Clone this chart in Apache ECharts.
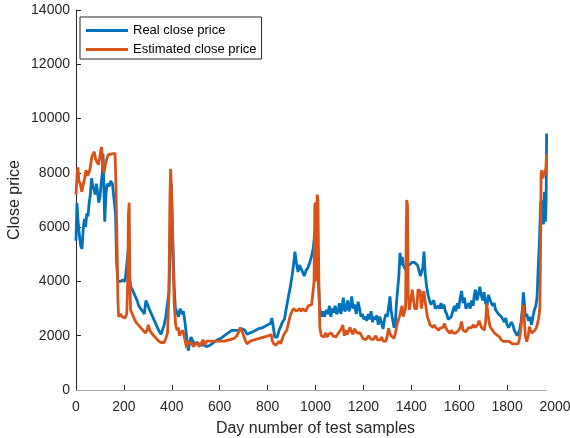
<!DOCTYPE html>
<html><head><meta charset="utf-8">
<script src="https://cdn.jsdelivr.net/npm/echarts@6/dist/echarts.min.js"></script>
<style>html,body{margin:0;padding:0;background:#fff}#c{width:570px;height:438px}</style>
</head><body><div id="c"></div>
<script>
const xTicks = [0,200,400,600,800,1000,1200,1400,1600,1800,2000];
const xTickMarks = [0,200,400,600,800,1000,1200,1400,1600,1800];
const yTicks = [0,2000,4000,6000,8000,10000,12000,14000];
const lastDay = 1965;

const realDays = [0,4,8,14,20,25,30,35,40,45,50,55,60,65,70,75,80,85,90,95,100,105,110,113,116,120,125,130,138,145,152,160,165,170,175,185,195,205,212,218,222,228,235,245,255,262,270,278,285,292,298,305,315,325,335,345,355,360,368,375,382,388,393,398,402,406,410,415,420,428,435,440,448,455,460,465,469,474,480,488,495,505,515,525,535,545,560,575,590,605,620,635,650,665,680,695,705,715,725,740,760,780,800,812,818,824,830,840,848,855,862,870,878,886,895,902,908,914,920,927,933,940,946,953,960,968,976,984,990,995,1000,1004,1008,1012,1018,1026,1032,1038,1045,1052,1058,1064,1070,1076,1082,1088,1094,1100,1106,1112,1116,1122,1128,1134,1140,1146,1151,1157,1163,1170,1178,1184,1190,1196,1202,1208,1214,1220,1226,1232,1238,1244,1250,1256,1262,1268,1275,1282,1288,1294,1300,1306,1311,1316,1322,1328,1333,1338,1343,1348,1353,1358,1362,1367,1372,1378,1384,1390,1396,1402,1408,1414,1420,1426,1432,1438,1443,1448,1453,1458,1464,1470,1476,1482,1488,1494,1500,1506,1512,1518,1524,1530,1536,1542,1548,1554,1561,1567,1573,1580,1586,1592,1598,1604,1610,1616,1622,1628,1634,1640,1646,1652,1658,1663,1668,1674,1680,1686,1692,1698,1704,1710,1716,1722,1728,1734,1740,1746,1752,1758,1764,1770,1776,1782,1788,1794,1800,1806,1812,1818,1824,1830,1836,1842,1847,1852,1858,1864,1868,1872,1876,1882,1889,1895,1902,1908,1914,1920,1925,1930,1935,1940,1944,1948,1952,1956,1960,1963,1965];
const realVals = [5500,6900,6300,5700,5300,5200,5900,6300,6000,6500,6400,6900,7200,7800,7500,7400,7200,7600,7300,6900,7100,7600,8000,8700,7600,6200,7200,7600,7500,7700,7600,7650,6500,4600,4000,4000,4050,4000,4050,5150,4300,3800,3700,3500,3300,3100,3000,2900,2800,3300,3250,3000,2800,2600,2400,2200,2050,2000,2400,2700,3200,3600,5000,7600,6000,5000,3800,3000,2900,2700,3000,2800,2900,2500,2100,1700,1450,1700,1950,1800,1700,1750,1700,1650,1650,1600,1650,1750,1850,1900,2000,2100,2200,2200,2200,2250,2200,2050,2100,2150,2250,2300,2400,2450,2650,2300,1950,1950,2200,2350,2500,2600,3000,3400,3800,4200,4600,5100,4700,4350,4600,4550,4350,4200,4400,4500,4700,4950,5200,5600,5900,4500,5500,4000,3000,2700,2900,2700,2950,2800,3100,2700,3000,2850,3100,2800,2900,3200,2800,3100,3400,2900,3000,3300,2900,3100,3450,3000,3150,2800,3250,3200,2700,2800,2600,2700,2550,2800,2600,2900,2500,2700,2600,2750,2400,2700,2500,2250,2600,2800,2700,3100,3450,2900,2600,2300,2400,3200,3700,4200,5050,4600,4900,4600,4500,4400,4700,4600,4650,4700,4650,4700,4650,4600,4400,4200,4150,4500,5100,4300,3800,3500,3300,3150,3100,3300,3000,2950,3100,3000,3200,3000,3150,2900,2800,2600,2550,2700,2900,3100,2900,3200,3000,3400,3650,3200,3400,3000,2950,3200,3000,3300,3100,3500,3700,3300,3500,3800,3500,3300,3600,3200,3100,3500,3450,3200,3100,3200,2950,3000,2800,2850,2700,2600,2500,2650,2400,2300,2350,2500,2400,2200,2100,2000,1950,2200,2500,3000,3600,3200,2700,2800,2550,2700,2400,2700,2950,3100,3400,4500,5500,6900,7000,6800,6100,7300,6200,7000,9450];

const estDays = [0,5,8,12,18,24,30,36,42,48,54,60,66,72,76,82,88,94,100,104,107,112,117,122,128,134,142,150,158,163,167,171,175,178,185,192,198,205,212,216,219,222,225,228,235,242,250,260,270,280,290,297,302,308,315,325,335,345,355,362,368,375,382,388,392,395,398,402,406,410,416,422,427,432,437,441,446,451,456,462,466,470,476,482,490,498,506,514,522,530,538,546,554,565,580,600,620,640,660,672,680,686,692,700,708,714,720,728,745,765,785,805,815,820,826,835,842,848,854,860,866,872,880,888,895,902,908,914,920,927,934,940,946,952,958,964,970,977,984,990,994,997,1000,1004,1007,1010,1014,1018,1024,1030,1036,1042,1048,1054,1060,1066,1072,1078,1084,1090,1096,1102,1108,1114,1120,1126,1132,1138,1144,1150,1156,1162,1168,1174,1180,1186,1192,1198,1204,1210,1216,1222,1228,1234,1240,1246,1252,1258,1264,1270,1276,1282,1288,1294,1300,1305,1310,1316,1322,1328,1334,1340,1346,1352,1358,1362,1366,1372,1376,1379,1381,1384,1387,1392,1398,1404,1409,1414,1418,1423,1428,1433,1437,1442,1447,1452,1457,1462,1467,1472,1478,1484,1490,1496,1502,1508,1514,1520,1526,1532,1538,1544,1550,1556,1561,1567,1574,1580,1586,1592,1598,1604,1610,1616,1622,1628,1634,1640,1646,1652,1659,1665,1671,1677,1683,1687,1693,1699,1705,1710,1715,1720,1725,1729,1735,1741,1747,1752,1757,1763,1769,1775,1780,1786,1792,1798,1804,1810,1816,1822,1828,1834,1840,1846,1852,1858,1863,1868,1872,1876,1882,1888,1893,1898,1904,1910,1916,1922,1927,1930,1934,1937,1940,1942,1946,1950,1954,1958,1962,1965];
const estVals = [7200,8000,8200,7700,7600,7300,7300,7800,8100,7900,8000,8200,8600,8700,8780,8500,8400,8300,8600,8850,8950,8300,7980,8300,8500,8660,8650,8700,8650,8720,7500,5500,3300,2700,2800,2700,2750,2650,2800,4000,6500,6900,4000,2950,2800,2650,2500,2400,2300,2200,2100,2200,2400,2200,2100,2000,1900,1800,1750,1700,1750,1900,2100,3500,7000,8150,7500,6500,4500,3200,2400,2200,2300,2000,2100,2050,2200,2150,1800,1550,1800,1700,1650,1750,1600,1650,1750,1600,1700,1850,1650,1800,1850,1800,1800,1800,1800,1850,1900,2000,2150,2300,2200,2000,1800,1700,1650,1800,1850,1900,1950,2000,2050,1800,1700,1650,1700,1800,1700,1850,2000,2100,2200,2500,2750,2900,3000,3070,2900,2950,3000,2900,3000,3050,2900,3000,3100,3100,3150,3200,4000,6800,6900,4000,7200,7000,4000,2300,2000,2050,1950,2100,1950,2050,2000,2100,2000,2050,1950,2000,2100,2050,2250,2400,2000,2200,2050,2100,2300,2150,2050,2250,2300,2100,2050,2100,2000,1900,1950,1850,1900,2000,1900,1950,1850,1900,2000,1850,1900,1850,1950,1800,1750,1800,2000,2280,2100,2000,2050,1900,2100,2400,2400,2750,3000,3100,2700,2750,3000,6000,7000,6800,3500,2950,3000,3700,3750,3000,2950,3000,3700,3700,3650,3000,2950,3650,3700,3000,2700,2580,2400,2350,2300,2400,2300,2350,2200,2280,2350,2300,2450,2300,2200,2150,2090,2200,2100,2050,2100,2030,2200,2300,2520,2200,2250,2150,2200,2300,2250,2300,2400,2300,2350,2400,2550,2580,2300,2250,2200,2500,3190,2800,2500,2330,2250,2200,2100,2050,2030,2000,1950,1850,1800,1780,1850,1800,1750,1780,1850,1700,1750,1700,1660,1700,1900,2300,2800,3130,2600,2000,1780,2000,2330,2200,2100,2090,2200,2300,2450,2580,2800,3070,5500,8000,8100,7800,8000,7900,8200,8700];

const zip = (d, v) => d.map((x, i) => [x, v[i]]);
const txt = '#262626';
const plain = v => String(v);
const chart = echarts.init(document.getElementById('c'), null, {renderer: 'canvas'});
chart.setOption({
  animation: false,
  backgroundColor: '#ffffff',
  textStyle: {fontFamily: 'Liberation Sans, Arial, sans-serif'},
  grid: {left: 76, right: 15, top: 10, bottom: 48, containLabel: false, outerBoundsMode: 'none'},
  legend: {
    orient: 'vertical', left: 80, top: 17,
    padding: [7, 5, 3, 6], itemGap: 6, itemWidth: 42, itemHeight: 3,
    icon: 'rect',
    backgroundColor: '#ffffff', borderColor: '#262626', borderWidth: 1, borderRadius: 0,
    textStyle: {fontSize: 13, color: '#000', padding: [0, 0, 0, 0]},
    data: ['Real close price', 'Estimated close price']
  },
  xAxis: {
    type: 'value', min: 0, max: 2000, interval: 200,
    name: 'Day number of test samples', nameLocation: 'middle', nameGap: 31,
    nameMoveOverlap: false,
    nameTextStyle: {fontSize: 16, color: txt},
    axisLine: {show: false},
    axisTick: {show: true, inside: true, length: 5, lineStyle: {color: txt}, customValues: xTickMarks},
    axisLabel: {fontSize: 14, color: txt, margin: 10, customValues: xTicks, formatter: plain},
    splitLine: {show: false}
  },
  yAxis: {
    type: 'value', min: 0, max: 14000, interval: 2000,
    name: 'Close price', nameLocation: 'middle', nameGap: 53,
    nameMoveOverlap: false,
    nameTextStyle: {fontSize: 16, color: txt},
    axisLine: {show: true, lineStyle: {color: txt, width: 1}},
    axisTick: {show: true, inside: true, length: 5, lineStyle: {color: txt}},
    axisLabel: {fontSize: 14, color: txt, margin: 6, formatter: plain},
    splitLine: {show: false}
  },
  series: [
    {
      name: 'Real close price', type: 'line', data: zip(realDays, realVals),
      showSymbol: false, symbol: 'none',
      lineStyle: {color: '#0072BD', width: 2.8}, itemStyle: {color: '#0072BD'},
      markLine: {
        silent: true, symbol: 'none', label: {show: false},
        lineStyle: {color: '#a6a6a6', width: 1, type: 'solid'},
        data: [[{coord: [0, 0]}, {coord: [lastDay, 0]}]]
      }
    },
    {
      name: 'Estimated close price', type: 'line', data: zip(estDays, estVals),
      showSymbol: false, symbol: 'none',
      lineStyle: {color: '#D95319', width: 2.8}, itemStyle: {color: '#D95319'}
    }
  ]
});
</script></body></html>
